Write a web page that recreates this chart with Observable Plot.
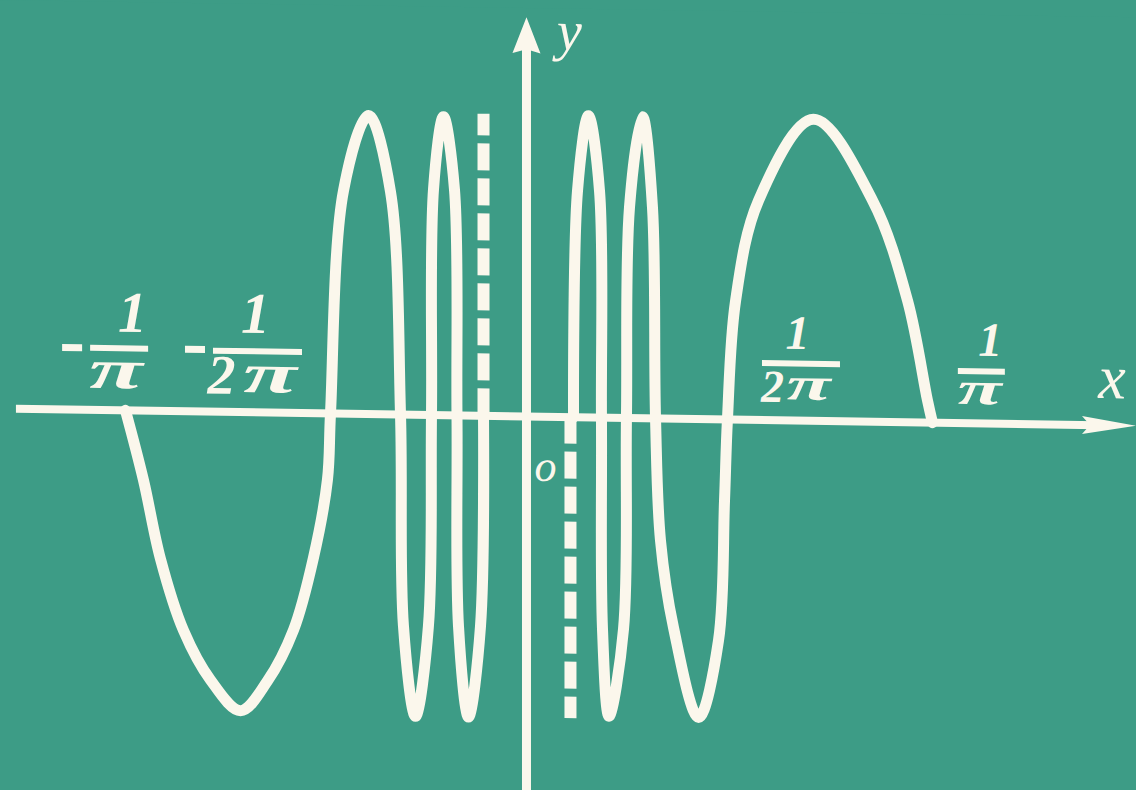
<!DOCTYPE html>
<html>
<head>
<meta charset="utf-8">
<script src="https://cdn.jsdelivr.net/npm/d3@7"></script>
<script src="https://cdn.jsdelivr.net/npm/@observablehq/plot@0.6"></script>
<style>
  html, body { margin: 0; padding: 0; background: #3d9c86; overflow: hidden; }
  #chart { width: 1136px; height: 790px; }
</style>
</head>
<body>
<div id="chart"></div>
<script>
// ---- data ----
// left branch of the oscillating curve (x < 0)
const leftX = [-0.3145, -0.3004, -0.2871, -0.2690, -0.2478, -0.2243, -0.2031, -0.1827, -0.1671, -0.1561, -0.1537,
               -0.1435, -0.1239, -0.1067, -0.0988,
               -0.0965, -0.0871, -0.0769, -0.0745,
               -0.0729, -0.0651, -0.0565, -0.0545,
               -0.0533, -0.0455, -0.0361, -0.0337];
const leftY = [0, -0.23, -0.49, -0.727, -0.89, -0.99, -0.89, -0.72, -0.48, -0.22, 0,
               0.74, 0.99, 0.74, 0,
               -0.70, -1.0, -0.70, 0,
               0.75, 0.99, 0.75, 0,
               -0.70, -1.0, -0.70, 0];
// right branch (x > 0)
const rightX = [0.0369, 0.0400, 0.0486, 0.0573, 0.0588,
                0.0596, 0.0647, 0.0761, 0.0784,
                0.0808, 0.0910, 0.0988, 0.1012,
                0.1051, 0.1153, 0.1349, 0.1506, 0.1553, 0.1576,
                0.1640, 0.1820, 0.2251, 0.2714, 0.2988, 0.3145, 0.3184];
const rightY = [0, 0.75, 1.0, 0.75, 0,
                -0.70, -0.99, -0.70, 0,
                0.70, 1.0, 0.70, 0,
                -0.405, -0.693, -0.99, -0.733, -0.27, 0,
                0.395, 0.728, 1.0, 0.734, 0.404, 0.073, 0];
// dashed segments near the origin (oscillation continues)
const dashX = [-0.0337, 0.0345];
const dashY = [1, -1];
// tick labels on the x axis
const tickValues = [-0.3183, -0.1592, 0.1592, 0.3183];
const tickSigns = ["-", "-", "", ""];
const tickNumerators = ["1", "1", "1", "1"];
const tickDenominators = ["π", "2π", "2π", "π"];
const axisNames = ["x", "y", "o"];

// ---- styling ----
const bg = "#3d9c86";
const ink = "#fbf7ec";
const W = 1136, H = 790;
const xDomain = [-0.4125, 0.4784];
const yDomain = [-1.267, 1.353];
const k = W / (xDomain[1] - xDomain[0]); // px per x unit
const yTip = 1.324, xTip = 0.478, xStart = -0.40;

const leftData = leftX.map((x, i) => ({x, y: leftY[i]}));
const rightData = rightX.map((x, i) => ({x, y: rightY[i]}));
const dashData = dashX.map((x, i) => ({x, y2: dashY[i]}));

const arrowUp = {draw(ctx) { ctx.moveTo(0, 0); ctx.lineTo(14, 36); ctx.lineTo(0, 32); ctx.lineTo(-14, 36); ctx.closePath(); }};
const arrowRight = {draw(ctx) { ctx.moveTo(0, 0); ctx.lineTo(-54, -9); ctx.lineTo(-46, 0); ctx.lineTo(-54, 9); ctx.closePath(); }};

const serif = "'Liberation Serif', 'DejaVu Serif', serif";
// layout of each fraction label, offsets in px from (tick, axis)
const labelLayout = [
  {size: 58, dsize: 56, num: [12, -97], bar: [-30, 28, -62], den: [[-4, -40]], minus: [-58, -38, -62]},
  {size: 58, dsize: 56, num: [-68, -98], bar: [-110, -21, -61], den: [[-102, -36], [-53, -38]], minus: [-138, -118, -62]},
  {size: 48, dsize: 46, num: [68, -87], bar: [33, 111, -57], den: [[43, -33], [80, -36]]},
  {size: 48, dsize: 46, num: [58, -83], bar: [26, 73, -52], den: [[48, -34]]}
];

function fraction(i) {
  const L = labelLayout[i];
  const t = tickValues[i];
  const common = {x: t, y: 0, fill: ink, fontFamily: serif, fontStyle: "italic", fontWeight: "bold", text: d => d};
  const marks = [
    Plot.text([tickNumerators[i]], {...common, fontSize: L.size, dx: L.num[0], dy: L.num[1]}),
    Plot.ruleY([0], {x1: t + L.bar[0] / k, x2: t + L.bar[1] / k, dy: L.bar[2], stroke: ink, strokeWidth: 6})
  ];
  tickDenominators[i].split("").forEach((ch, j) => {
    marks.push(Plot.text([ch], {...common, fontSize: L.dsize, dx: L.den[j][0], dy: L.den[j][1]}));
  });
  if (tickSigns[i]) {
    marks.push(Plot.ruleY([0], {x1: t + L.minus[0] / k, x2: t + L.minus[1] / k, dy: L.minus[2],
      stroke: ink, strokeWidth: 7}));
  }
  return marks;
}

const svg = Plot.plot({
  width: W,
  height: H,
  margin: 0,
  x: {domain: xDomain, axis: null},
  y: {domain: yDomain, axis: null},
  marks: [
    Plot.ruleY([0], {x1: xStart, x2: xTip - 0.03, stroke: ink, strokeWidth: 8}),
    Plot.ruleX([0], {y1: yDomain[0], y2: yTip - 0.08, stroke: ink, strokeWidth: 9}),
    Plot.dot([0], {x: 0, y: yTip, symbol: arrowUp, fill: ink, stroke: "none"}),
    Plot.dot([0], {x: xTip, y: 0, symbol: arrowRight, fill: ink, stroke: "none"}),
    Plot.ruleX(dashData, {x: "x", y1: 0, y2: "y2", stroke: ink, strokeWidth: 12, strokeDasharray: "27,8"}),
    Plot.line(leftData, {x: "x", y: "y", curve: "catmull-rom", stroke: ink, strokeWidth: 11,
      strokeLinejoin: "round", strokeLinecap: "round"}),
    Plot.line(rightData, {x: "x", y: "y", curve: "catmull-rom", stroke: ink, strokeWidth: 11,
      strokeLinejoin: "round", strokeLinecap: "round"}),
    ...fraction(0), ...fraction(1), ...fraction(2), ...fraction(3),
    Plot.text([axisNames[0]], {x: xTip, y: 0, text: d => d, dx: -24, dy: -47, fill: ink,
      fontFamily: serif, fontStyle: "italic", fontSize: 62}),
    Plot.text([axisNames[1]], {x: 0, y: yTip, text: d => d, dx: 43, dy: 14, fill: ink,
      fontFamily: serif, fontStyle: "italic", fontSize: 56}),
    Plot.text([axisNames[2]], {x: 0, y: 0, text: d => d, dx: 19, dy: 50, fill: ink,
      fontFamily: serif, fontStyle: "italic", fontSize: 44})
  ]
});
svg.style.background = bg;
svg.style.transformOrigin = "0 0";
svg.style.transform = "skewY(0.87deg)";
svg.style.overflow = "visible";
svg.style.maxWidth = "none";
document.getElementById("chart").appendChild(svg);

// the π of the reference is a wide script glyph: stretch it horizontally
d3.select(svg).selectAll("text")
  .filter(function () { return this.textContent === "π"; })
  .each(function () {
    const b = this.getBBox();
    const cx = b.x + b.width / 2, cy = b.y + b.height / 2;
    const t = this.getAttribute("transform") || "";
    this.setAttribute("transform", `${t} translate(${cx},${cy}) scale(1.75,1) translate(${-cx},${-cy})`);
  });
</script>
</body>
</html>
